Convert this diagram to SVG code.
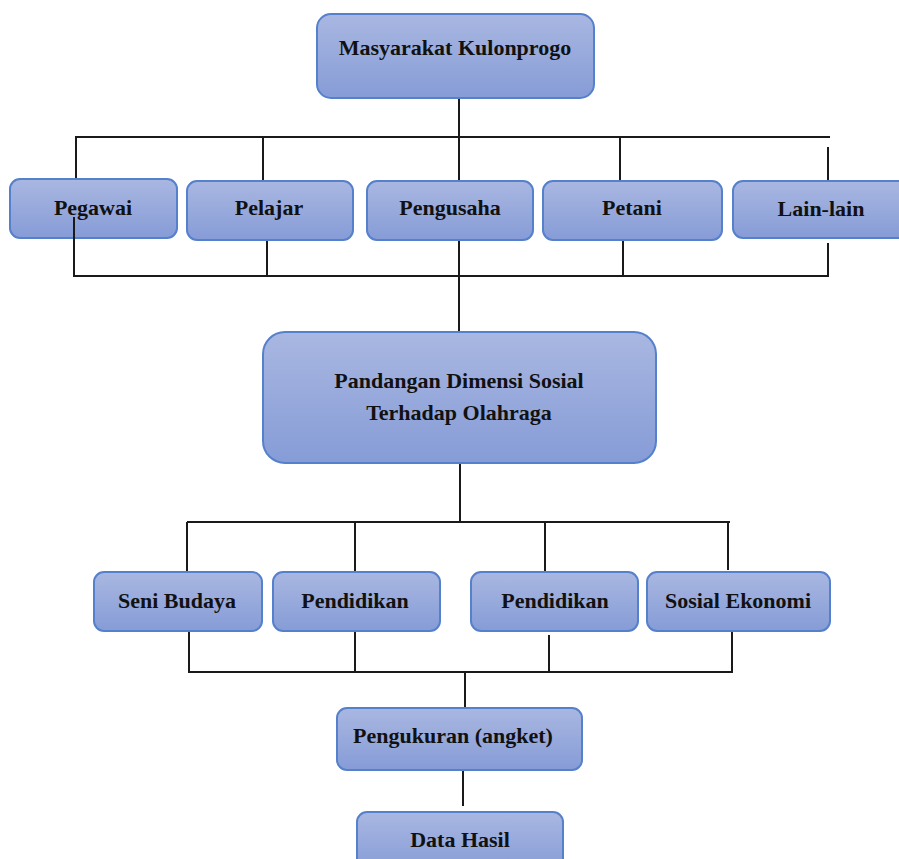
<svg xmlns="http://www.w3.org/2000/svg" width="899" height="859" viewBox="0 0 899 859">
<defs>
<linearGradient id="g" x1="0" y1="0" x2="0" y2="1">
<stop offset="0" stop-color="#a9b7e1"/>
<stop offset="1" stop-color="#869cd7"/>
</linearGradient>
<style>
.b{fill:url(#g);stroke:#5580cc;stroke-width:2}
.t{font-family:"Liberation Serif",serif;font-weight:bold;font-size:22px;fill:#111;text-anchor:middle}
.c{stroke:#1a1a1a;stroke-width:2;fill:none}
</style>
</defs>
<rect width="899" height="859" fill="#fff"/>
<g id="connectors" class="c">
<path d="M459 98V181M75 137H830M76 137V179M263 137V181M620 137V181M828 147V181"/>
<path d="M267 240V276M459 240V331M623 240V276M828 243V276M73 276H829"/>
<path d="M460 463V522M187 522H730M187 522V572M355 522V572M545 522V572M728 522V570"/>
<path d="M189 632V672M355 632V672M549 635V672M732 632V672M188 672H733M465 672V708"/>
<path d="M463 767V806"/>
</g>
<g id="masyarakat"><rect class="b" x="317" y="14" width="277" height="84" rx="14"/><text class="t" x="455" y="55">Masyarakat Kulonprogo</text></g>
<g id="pegawai"><rect class="b" x="10" y="179" width="167" height="59" rx="10"/><text class="t" x="93" y="215">Pegawai</text></g>
<g id="pelajar"><rect class="b" x="187" y="181" width="166" height="59" rx="10"/><text class="t" x="269" y="215">Pelajar</text></g>
<g id="pengusaha"><rect class="b" x="367" y="181" width="166" height="59" rx="10"/><text class="t" x="450" y="215">Pengusaha</text></g>
<g id="petani"><rect class="b" x="543" y="181" width="179" height="59" rx="10"/><text class="t" x="632" y="215">Petani</text></g>
<g id="lainlain"><rect class="b" x="733" y="181" width="176" height="57" rx="10"/><text class="t" x="821" y="216">Lain-lain</text></g>
<g id="pandangan"><rect class="b" x="263" y="332" width="393" height="131" rx="22"/><text class="t" x="459" y="388">Pandangan Dimensi Sosial</text><text class="t" x="459" y="420">Terhadap Olahraga</text></g>
<g id="senibudaya"><rect class="b" x="94" y="572" width="168" height="59" rx="10"/><text class="t" x="177" y="608">Seni Budaya</text></g>
<g id="pendidikan1"><rect class="b" x="273" y="572" width="167" height="59" rx="10"/><text class="t" x="355" y="608">Pendidikan</text></g>
<g id="pendidikan2"><rect class="b" x="471" y="572" width="167" height="59" rx="10"/><text class="t" x="555" y="608">Pendidikan</text></g>
<g id="sosialekonomi"><rect class="b" x="647" y="572" width="183" height="59" rx="10"/><text class="t" x="738" y="608">Sosial Ekonomi</text></g>
<g id="pengukuran"><rect class="b" x="337" y="708" width="245" height="62" rx="10"/><text class="t" x="453" y="743">Pengukuran (angket)</text></g>
<g id="datahasil"><rect class="b" x="357" y="812" width="206" height="60" rx="10"/><text class="t" x="460" y="847">Data Hasil</text></g>
<g id="connector-overlay" class="c"><path d="M74 217V276"/></g>
</svg>
